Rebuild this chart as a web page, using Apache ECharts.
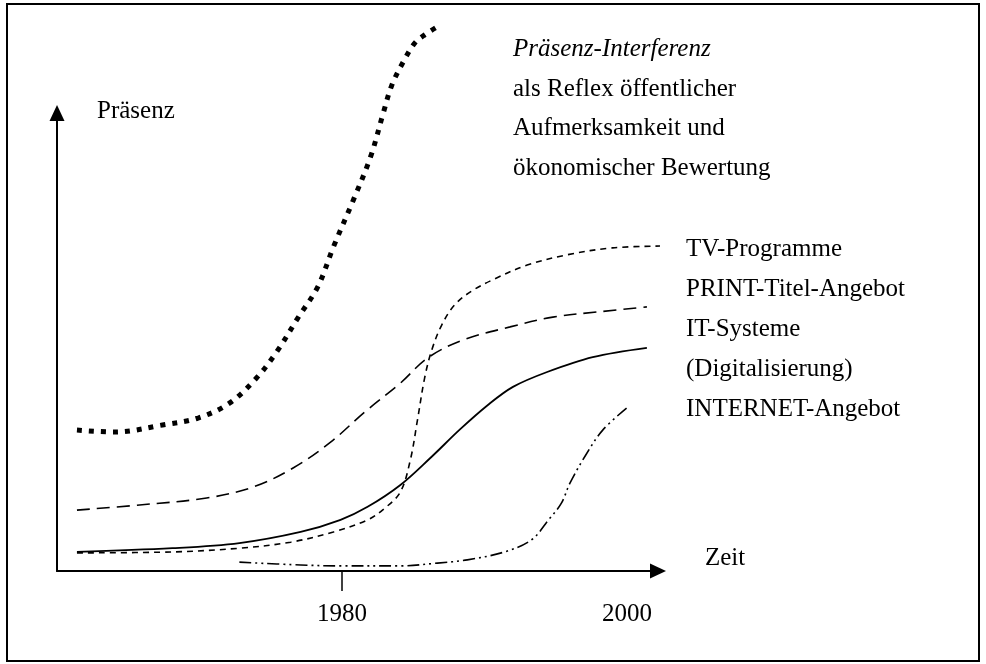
<!DOCTYPE html>
<html>
<head>
<meta charset="utf-8">
<script src="https://cdn.jsdelivr.net/npm/echarts@6/dist/echarts.min.js"></script>
<style>
html,body{margin:0;padding:0;background:#fff;}
#c{width:986px;height:664px;}
</style>
</head>
<body>
<div id="c"></div>
<script>
// Data: [year, Präsenz]
const interferenz = [[1961.4,30.3],[1964.1,29.9],[1967.4,31.4],[1969.9,32.9],[1972.1,36.1],[1974.0,41.5],[1975.5,47.5],[1976.9,54.4],[1978.3,61.1],[1979.4,69.7],[1980.8,79.8],[1982.0,89.0],[1982.9,98.5],[1983.5,104.5],[1984.3,109.5],[1985.1,113.5],[1985.8,115.3],[1986.9,117.4]];
const tvProgramme = [[1961.4,3.9],[1968.1,4.1],[1972.8,4.9],[1976.4,6.2],[1979.4,8.4],[1981.8,11.0],[1983.0,13.5],[1984.1,17.0],[1984.8,23.9],[1985.3,32.5],[1985.8,41.5],[1986.3,47.5],[1987.0,52.9],[1987.9,57.2],[1989.1,60.2],[1990.7,62.8],[1993.0,65.8],[1995.8,68.0],[1999.0,69.5],[2002.8,69.9]];
const printTitel = [[1961.4,13.1],[1965.8,14.2],[1970.5,15.7],[1973.8,18.1],[1976.6,22.2],[1979.2,27.7],[1981.6,34.2],[1984.1,40.4],[1986.0,45.8],[1988.5,49.7],[1991.8,52.5],[1994.8,54.6],[1997.9,55.7],[2001.4,56.8]];
const itSysteme = [[1961.4,4.1],[1968.1,4.9],[1972.8,6.0],[1977.1,8.4],[1979.9,11.0],[1981.8,13.8],[1984.1,18.5],[1986.2,24.3],[1988.3,30.5],[1990.2,35.6],[1992.0,39.6],[1994.4,42.8],[1997.6,46.0],[2001.4,48.0]];
const internet = [[1972.8,1.9],[1977.1,1.3],[1979.9,1.1],[1984.1,1.1],[1986.7,1.7],[1988.8,2.4],[1991.4,4.1],[1993.3,6.7],[1994.5,11.0],[1995.4,14.6],[1996.0,18.9],[1997.1,24.9],[1998.3,30.3],[2000.0,35.1]];
const xTickLabels = [1980, 2000];
const xTicks = [1980];
const noteLines = ['als Reflex öffentlicher','Aufmerksamkeit und','ökonomischer Bewertung'];
const seriesLabels = ['TV-Programme','PRINT-Titel-Angebot','IT-Systeme','(Digitalisierung)','INTERNET-Angebot'];

const FONT = '25px "Liberation Serif", "Times New Roman", serif';
const chart = echarts.init(document.getElementById('c'), null, {renderer:'canvas'});

const graphics = [
  {type:'rect', shape:{x:7, y:4, width:972, height:657}, style:{fill:null, stroke:'#000', lineWidth:2}, silent:true},
  {type:'text', x:97, y:111, style:{text:'Präsenz', font:FONT, fill:'#000', verticalAlign:'middle'}},
  {type:'text', x:705, y:558, style:{text:'Zeit', font:FONT, fill:'#000', verticalAlign:'middle'}},
  {type:'text', x:513, y:49, style:{text:'Präsenz-Interferenz', font:'italic ' + FONT, fill:'#000', verticalAlign:'middle'}}
];
noteLines.forEach((t,i)=>graphics.push({type:'text', x:513, y:89 + i*39.5, style:{text:t, font:FONT, fill:'#000', verticalAlign:'middle'}}));
seriesLabels.forEach((t,i)=>graphics.push({type:'text', x:686, y:249 + i*40.2, style:{text:t, font:FONT, fill:'#000', verticalAlign:'middle'}}));

function line(name, data, lineStyle, smooth){
  return {name, type:'line', data, smooth:smooth, showSymbol:false, clip:false, silent:true,
    lineStyle:Object.assign({color:'#000', cap:'butt'}, lineStyle)};
}

chart.setOption({
  animation:false,
  backgroundColor:'#fff',
  grid:{left:57, top:113, right:328, bottom:93},
  xAxis:{type:'value', min:1960, max:2002.18,
    axisLine:{show:true, lineStyle:{color:'#000', width:2}, symbol:['none','triangle'], symbolSize:[15,16]},
    axisTick:{show:true, customValues:xTicks, length:20, inside:false, lineStyle:{color:'#000', width:1.5}},
    axisLabel:{show:true, customValues:xTickLabels, formatter:(v)=>String(Math.round(v)), margin:31, color:'#000', fontSize:25, fontFamily:'"Liberation Serif", "Times New Roman", serif'},
    splitLine:{show:false}},
  yAxis:{type:'value', min:0, max:98.5,
    axisLine:{show:true, lineStyle:{color:'#000', width:2}, symbol:['none','triangle'], symbolSize:[15,16]},
    axisTick:{show:false}, axisLabel:{show:false}, splitLine:{show:false}},
  graphic:graphics,
  series:[
    line('Präsenz-Interferenz', interferenz, {width:5, type:[5,7]}, 0.35),
    line('TV-Programme', tvProgramme, {width:1.6, type:[6,5]}, 0.35),
    line('PRINT-Titel-Angebot', printTitel, {width:1.6, type:[13,7]}, 0.35),
    line('IT-Systeme', itSysteme, {width:1.8, type:'solid'}, 0.35),
    line('INTERNET-Angebot', internet, {width:1.6, type:[12,4,2,4,2,4]}, 0.35)
  ]
});
</script>
</body>
</html>
